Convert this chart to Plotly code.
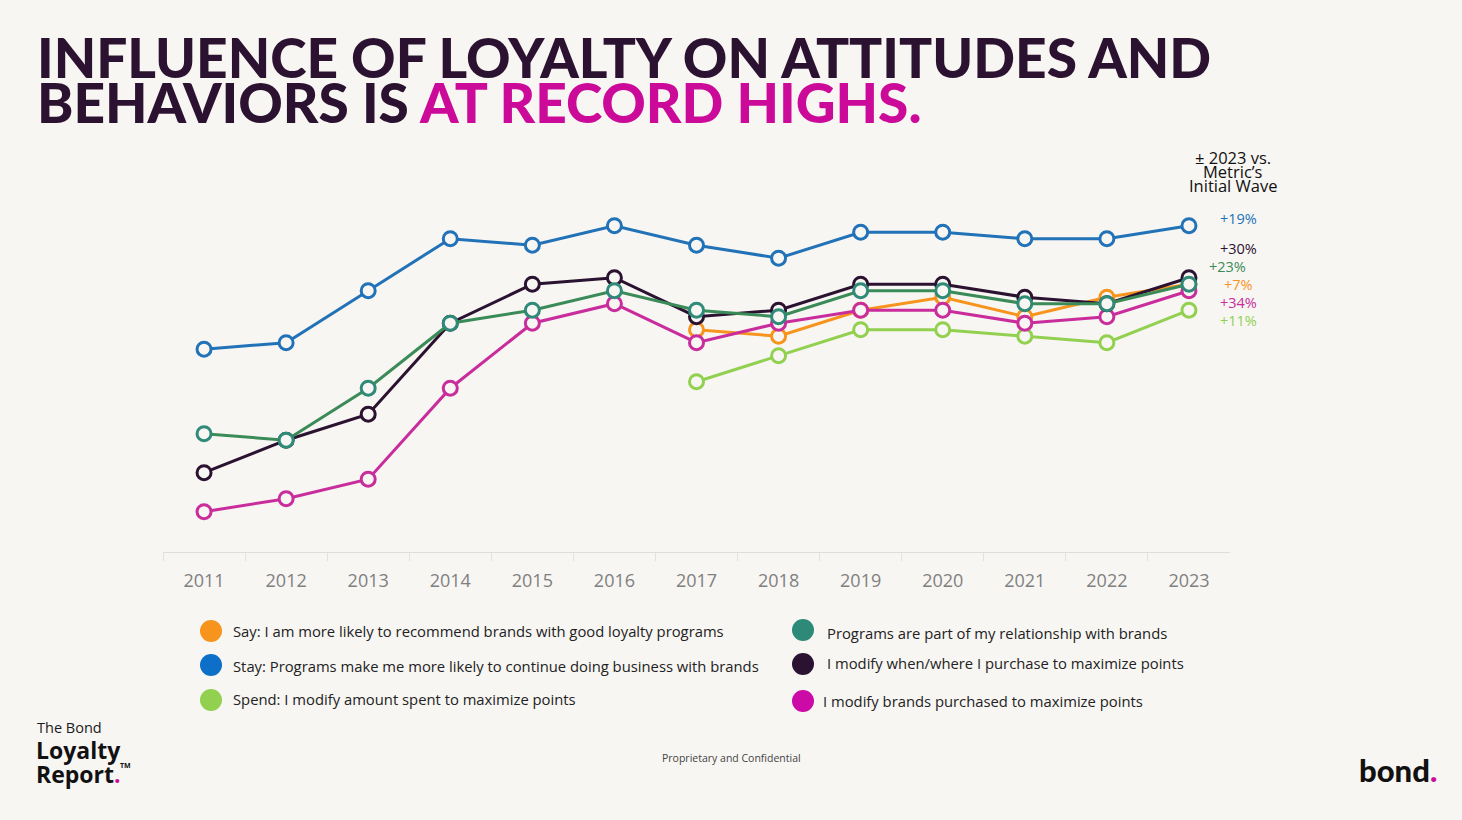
import plotly.graph_objects as go

years = ["2011", "2012", "2013", "2014", "2015", "2016", "2017",
         "2018", "2019", "2020", "2021", "2022", "2023"]

say = [None, None, None, None, None, None, 64, 63, 67, 69, 66, 69, 71]
stay = [61, 62, 70, 78, 77, 80, 77, 75, 79, 79, 78, 78, 80]
spend = [None, None, None, None, None, None, 56, 60, 64, 64, 63, 62, 67]
programs = [48, 47, 55, 65, 67, 70, 67, 66, 70, 70, 68, 68, 71]
when_where = [42, 47, 51, 65, 71, 72, 66, 67, 71, 71, 69, 68, 72]
brands = [36, 38, 41, 55, 65, 68, 62, 65, 67, 67, 65, 66, 70]

deltas = ["+19%", "+30%", "+23%", "+7%", "+34%", "+11%"]

legend_labels = {
    "say": "Say: I am more likely to recommend brands with good loyalty programs",
    "stay": "Stay: Programs make me more likely to continue doing business with brands",
    "spend": "Spend: I modify amount spent to maximize points",
    "programs": "Programs are part of my relationship with brands",
    "when": "I modify when/where I purchase to maximize points",
    "brands": "I modify brands purchased to maximize points",
}

BG = "#f8f6f3"
W, H = 1462, 820
DARK = "#2b1230"
PINK = "#cc0a9a"

C_SAY = "#f7941d"
C_STAY = "#2272b8"
C_SPEND = "#92d050"
C_PROG_LINE = "#3a8b58"
C_PROG_MK = "#2f8a78"
C_WHEN = "#2b1230"
C_BRANDS = "#c92d9c"

fig = go.Figure()

def add_series(name, vals, line_color, marker_color=None):
    fig.add_trace(go.Scatter(
        x=years, y=vals, mode="lines+markers", name=name,
        line=dict(color=line_color, width=3),
        marker=dict(size=14, color=BG,
                    line=dict(color=marker_color or line_color, width=3)),
        connectgaps=False, showlegend=False, hoverinfo="skip",
    ))

add_series(legend_labels["say"], say, C_SAY)
add_series(legend_labels["spend"], spend, C_SPEND)
add_series(legend_labels["brands"], brands, C_BRANDS)
add_series(legend_labels["when"], when_where, C_WHEN)
add_series(legend_labels["programs"], programs, C_PROG_LINE, C_PROG_MK)
add_series(legend_labels["stay"], stay, C_STAY)

def px(x):
    return x / W

def py(y):
    return 1 - y / H

ann = []

# Title
ann.append(dict(x=px(35), y=py(57), xref="paper", yref="paper", xanchor="left",
                yanchor="middle", showarrow=False,
                text="INFLUENCE OF LOYALTY ON ATTITUDES AND",
                font=dict(family="Lato", size=55, color=DARK, weight=900)))
ann.append(dict(x=px(35), y=py(102), xref="paper", yref="paper", xanchor="left",
                yanchor="middle", showarrow=False,
                text="BEHAVIORS IS <span style='color:%s'>AT RECORD HIGHS.</span>" % PINK,
                font=dict(family="Lato", size=55, color=DARK, weight=900)))

# Right header
for t, yy in [("± 2023 vs.", 158), ("Metric’s", 172), ("Initial Wave", 186)]:
    ann.append(dict(x=px(1233), y=py(yy), xref="paper", yref="paper",
                    xanchor="center", yanchor="middle", showarrow=False, text=t,
                    font=dict(family="Open Sans", size=16.5, color="#111111")))

# Delta labels
delta_pos = [(1238, 218, C_STAY), (1238, 248, C_WHEN), (1227, 266, C_PROG_LINE),
             (1238, 284, C_SAY), (1238, 302, C_BRANDS), (1238, 320, C_SPEND)]
for t, (xx, yy, c) in zip(deltas, delta_pos):
    ann.append(dict(x=px(xx), y=py(yy), xref="paper", yref="paper",
                    xanchor="center", yanchor="middle", showarrow=False, text=t,
                    font=dict(family="Open Sans", size=14.5, color=c)))

# Legend (custom)
shapes = []
leg = [
    (211, 631, C_SAY, 231, 631, legend_labels["say"]),
    (211, 665, "#0d6fc7", 231, 666, legend_labels["stay"]),
    (211, 700, C_SPEND, 231, 699, legend_labels["spend"]),
    (803, 630, "#2e8a78", 825, 633, legend_labels["programs"]),
    (803, 664, DARK, 825, 663, legend_labels["when"]),
    (803, 701, "#cc0aa6", 821, 701, legend_labels["brands"]),
]
for cx, cy, c, tx, ty, t in leg:
    shapes.append(dict(type="circle", xref="paper", yref="paper",
                       xsizemode="pixel", ysizemode="pixel",
                       xanchor=px(cx), yanchor=py(cy),
                       x0=-11, x1=11, y0=-11, y1=11,
                       fillcolor=c, line=dict(width=0)))
    ann.append(dict(x=px(tx), y=py(ty), xref="paper", yref="paper",
                    xanchor="left", yanchor="middle", showarrow=False, text=t,
                    font=dict(family="Open Sans", size=14.8, color="#222222")))

# Footer
ann.append(dict(x=px(731), y=py(758), xref="paper", yref="paper",
                xanchor="center", yanchor="middle", showarrow=False,
                text="Proprietary and Confidential",
                font=dict(family="Open Sans", size=10.5, color="#444444")))

# Bottom-left logo
ann.append(dict(x=px(35), y=py(727), xref="paper", yref="paper",
                xanchor="left", yanchor="middle", showarrow=False, text="The Bond",
                font=dict(family="Open Sans", size=14.5, color="#1a1a1a")))
ann.append(dict(x=px(34), y=py(750), xref="paper", yref="paper",
                xanchor="left", yanchor="middle", showarrow=False, text="Loyalty",
                font=dict(family="Open Sans", size=23, color="#111111", weight=700)))
ann.append(dict(x=px(34), y=py(774), xref="paper", yref="paper",
                xanchor="left", yanchor="middle", showarrow=False,
                text="Report<span style='color:%s'>.</span>" % PINK,
                font=dict(family="Open Sans", size=23, color="#111111", weight=700)))
ann.append(dict(x=px(118), y=py(765), xref="paper", yref="paper",
                xanchor="left", yanchor="middle", showarrow=False,
                text="TM",
                font=dict(family="Open Sans", size=7, color="#111111", weight=700)))

# Bottom-right logo
ann.append(dict(x=px(1357), y=py(770), xref="paper", yref="paper",
                xanchor="left", yanchor="middle", showarrow=False,
                text="bond<span style='color:%s'>.</span>" % PINK,
                font=dict(family="Lato", size=31, color="#111111", weight=900)))

Y0 = 29.8
PXPT = 6.5
TOP_PX = 142.5
y_top = Y0 + (552 - TOP_PX) / PXPT

fig.update_layout(
    width=W, height=H,
    margin=dict(l=0, r=0, t=0, b=0),
    paper_bgcolor=BG, plot_bgcolor=BG,
    showlegend=False,
    annotations=ann, shapes=shapes,
    xaxis=dict(domain=[px(163), px(1230)], type="category",
               range=[-0.5, 12.5], showgrid=False, zeroline=False,
               showline=True, linecolor="#dedede", linewidth=1,
               ticks="outside", tickson="boundaries", ticklen=8,
               tickcolor="#e2e2e2", ticklabelstandoff=12,
               tickfont=dict(family="Open Sans", size=18, color="#808080"),
               fixedrange=True),
    yaxis=dict(domain=[py(552), py(TOP_PX)], range=[Y0, y_top],
               visible=False, fixedrange=True),
)

fig.write_html("out.html", config={"displayModeBar": False})
